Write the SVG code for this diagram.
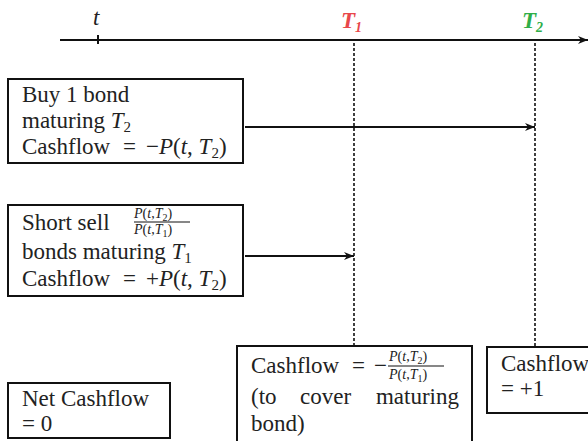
<svg xmlns="http://www.w3.org/2000/svg" width="588" height="441" viewBox="0 0 588 441">
<defs>
<style>
.t{font-family:"Liberation Serif","DejaVu Serif",serif;font-size:23px;fill:#222}
.f{font-family:"Liberation Serif","DejaVu Serif",serif;font-size:14px;fill:#222}
.i{font-style:italic}
.box{fill:#fff;stroke:#111;stroke-width:2}
.ln{stroke:#111;stroke-width:2;fill:none}
.dash{stroke:#111;stroke-width:1.6;stroke-dasharray:3 2;fill:none}
</style>
<marker id="ah" markerWidth="10" markerHeight="8" refX="10" refY="4" orient="auto" markerUnits="userSpaceOnUse">
<path d="M0,0 L10,4 L0,8 L3,4 Z" fill="#111"/>
</marker>
</defs>
<rect width="588" height="441" fill="#fff"/>

<g id="timeline">
<line class="ln" x1="60" y1="40" x2="588" y2="40" marker-end="url(#ah)"/>
<line class="ln" x1="98" y1="35" x2="98" y2="44"/>
<text class="t i" x="93" y="25">t</text>
<text class="t i" x="341" y="28" style="fill:#e8474a;font-weight:bold">T<tspan font-size="14" dy="4">1</tspan></text>
<text class="t i" x="522" y="28" style="fill:#2fae48;font-weight:bold">T<tspan font-size="14" dy="4">2</tspan></text>
</g>

<g id="connectors">
<line class="dash" x1="354" y1="43" x2="354" y2="345"/>
<line class="dash" x1="535" y1="43" x2="535" y2="347"/>
<line class="ln" x1="245" y1="127" x2="535" y2="127" marker-end="url(#ah)"/>
<line class="ln" x1="245" y1="256" x2="354" y2="256" marker-end="url(#ah)"/>
</g>

<g id="buy">
<rect class="box" x="8" y="79" width="235" height="84"/>
<text class="t" x="22" y="102">Buy 1 bond</text>
<text class="t" x="22" y="128">maturing <tspan class="i">T</tspan><tspan font-size="15" dy="4">2</tspan></text>
<text class="t" x="22" y="154">Cashflow<tspan x="123">=</tspan><tspan x="146">−<tspan class="i">P</tspan>(<tspan class="i">t</tspan>, <tspan class="i">T</tspan><tspan font-size="15" dy="4">2</tspan><tspan dy="-4">)</tspan></tspan></text>
</g>

<g id="short">
<rect class="box" x="8" y="205" width="235" height="91"/>
<text class="t" x="22" y="230">Short sell</text>
<text class="f" x="134" y="218"><tspan class="i">P</tspan>(<tspan class="i">t</tspan>,<tspan class="i">T</tspan><tspan font-size="10" dy="3">2</tspan><tspan dy="-3">)</tspan></text>
<line x1="134" y1="222" x2="190" y2="222" stroke="#111" stroke-width="1.2"/>
<text class="f" x="134" y="234"><tspan class="i">P</tspan>(<tspan class="i">t</tspan>,<tspan class="i">T</tspan><tspan font-size="10" dy="3">1</tspan><tspan dy="-3">)</tspan></text>
<text class="t" x="22" y="259">bonds maturing <tspan class="i">T</tspan><tspan font-size="15" dy="4">1</tspan></text>
<text class="t" x="22" y="286">Cashflow<tspan x="123">=</tspan><tspan x="146">+<tspan class="i">P</tspan>(<tspan class="i">t</tspan>, <tspan class="i">T</tspan><tspan font-size="15" dy="4">2</tspan><tspan dy="-4">)</tspan></tspan></text>
</g>

<g id="cover">
<rect class="box" x="237" y="346" width="235" height="100"/>
<text class="t" x="251" y="373">Cashflow<tspan x="352">=</tspan><tspan x="374">−</tspan></text>
<text class="f" x="389" y="361"><tspan class="i">P</tspan>(<tspan class="i">t</tspan>,<tspan class="i">T</tspan><tspan font-size="10" dy="3">2</tspan><tspan dy="-3">)</tspan></text>
<line x1="388" y1="366" x2="444" y2="366" stroke="#111" stroke-width="1.2"/>
<text class="f" x="389" y="379"><tspan class="i">P</tspan>(<tspan class="i">t</tspan>,<tspan class="i">T</tspan><tspan font-size="10" dy="3">1</tspan><tspan dy="-3">)</tspan></text>
<text class="t" x="251" y="404">(to</text>
<text class="t" x="300" y="404">cover</text>
<text class="t" x="459" y="404" text-anchor="end">maturing</text>
<text class="t" x="251" y="431">bond)</text>
</g>

<g id="receive">
<rect class="box" x="487" y="347" width="110" height="66"/>
<text class="t" x="501" y="371">Cashflow</text>
<text class="t" x="501" y="396">= +1</text>
</g>

<g id="net">
<rect class="box" x="8" y="383" width="162" height="55"/>
<text class="t" x="22" y="406">Net Cashflow</text>
<text class="t" x="22" y="431">= 0</text>
</g>
</svg>
